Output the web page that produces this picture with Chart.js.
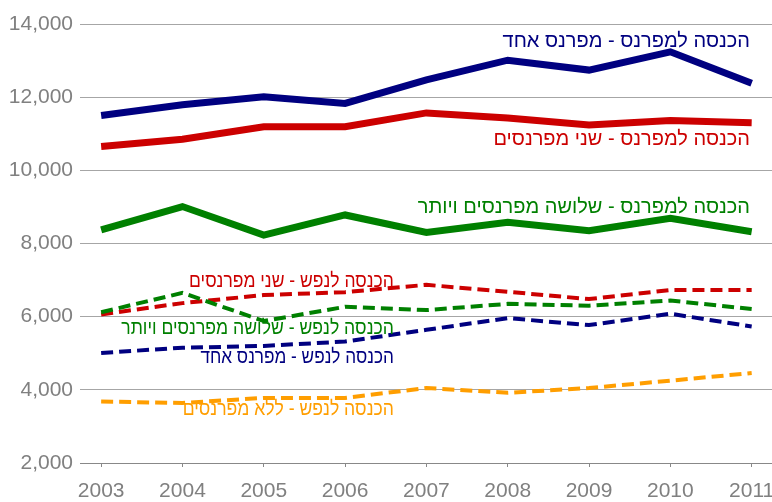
<!DOCTYPE html>
<html><head><meta charset="utf-8">
<script src="https://cdn.jsdelivr.net/npm/chart.js@4.4.1/dist/chart.umd.min.js"></script>
<style>html,body{margin:0;padding:0;background:#fff}#wrap{width:772px;height:502px}</style>
</head><body><div id="wrap"><canvas id="c" width="772" height="502"></canvas></div>
<script>
// ---- data ----
const years = [2003, 2004, 2005, 2006, 2007, 2008, 2009, 2010, 2011];
const yTickValues = [2000, 4000, 6000, 8000, 10000, 12000, 14000];

const perEarnerOneEarner   = [11500, 11790, 12010, 11830, 12470, 13010, 12740, 13240, 12380];
const perEarnerTwoEarners  = [10650, 10850, 11190, 11190, 11570, 11430, 11240, 11360, 11300];
const perEarnerThreePlus   = [8370, 9010, 8230, 8780, 8300, 8580, 8350, 8690, 8320];
const perCapitaTwoEarners  = [6060, 6370, 6590, 6670, 6870, 6680, 6480, 6730, 6730];
const perCapitaThreePlus   = [6120, 6650, 5880, 6270, 6180, 6350, 6300, 6440, 6210];
const perCapitaOneEarner   = [5010, 5150, 5200, 5320, 5640, 5960, 5770, 6080, 5730];
const perCapitaNoEarners   = [3680, 3640, 3780, 3780, 4050, 3920, 4050, 4250, 4460];

const seriesNames = [
  "הכנסה למפרנס - מפרנס אחד",
  "הכנסה למפרנס - שני מפרנסים",
  "הכנסה למפרנס - שלושה מפרנסים ויותר",
  "הכנסה לנפש - שני מפרנסים",
  "הכנסה לנפש - שלושה מפרנסים ויותר",
  "הכנסה לנפש - מפרנס אחד",
  "הכנסה לנפש - ללא מפרנסים"
];

// ---- styles / label placement (data units) ----
const NAVY = '#000080', RED = '#cc0000', GREEN = '#008000', ORANGE = '#ff9e00';
const labelAnchors = [
  {x: 2010.98, y: 13520, color: NAVY, sx: 1},
  {x: 2010.98, y: 10830, color: RED, sx: 1},
  {x: 2010.98, y: 8980, color: GREEN, sx: 1},
  {x: 2006.6, y: 6950, color: RED, sx: 0.875},
  {x: 2006.6, y: 5680, color: GREEN, sx: 0.88},
  {x: 2006.6, y: 4890, color: NAVY, sx: 0.86},
  {x: 2006.6, y: 3450, color: ORANGE, sx: 0.88}
];

function pts(arr){ return years.map((x,i)=>({x:x, y:arr[i]})); }
function solid(label, data, color){
  return {label, data: pts(data), borderColor: color, borderWidth: 7, pointRadius: 0, tension: 0, fill: false, borderJoinStyle: 'miter', borderCapStyle: 'butt'};
}
function dashed(label, data, color){
  return {label, data: pts(data), borderColor: color, borderWidth: 4, borderDash: [12, 6], pointRadius: 0, tension: 0, fill: false, borderJoinStyle: 'miter', borderCapStyle: 'butt'};
}

const FONT = "'Liberation Sans', Arial, sans-serif";

const labelPlugin = {
  id: 'seriesLabels',
  afterDatasetsDraw(chart){
    const ctx = chart.ctx, xs = chart.scales.x, ys = chart.scales.y;
    labelAnchors.forEach((a, i) => {
      const px = xs.getPixelForValue(a.x), py = ys.getPixelForValue(a.y);
      ctx.save();
      ctx.font = "20px " + FONT;
      ctx.direction = 'rtl';
      ctx.textAlign = 'right';
      ctx.textBaseline = 'middle';
      ctx.fillStyle = a.color;
      ctx.translate(px, py);
      ctx.scale(a.sx, 1);
      ctx.fillText(seriesNames[i], 0, 0);
      ctx.restore();
    });
  }
};

new Chart(document.getElementById('c'), {
  type: 'line',
  data: {
    datasets: [
      solid(seriesNames[0], perEarnerOneEarner, NAVY),
      solid(seriesNames[1], perEarnerTwoEarners, RED),
      solid(seriesNames[2], perEarnerThreePlus, GREEN),
      dashed(seriesNames[4], perCapitaThreePlus, GREEN),
      dashed(seriesNames[3], perCapitaTwoEarners, RED),
      dashed(seriesNames[5], perCapitaOneEarner, NAVY),
      dashed(seriesNames[6], perCapitaNoEarners, ORANGE)
    ]
  },
  options: {
    responsive: false,
    animation: false,
    devicePixelRatio: 1,
    layout: {padding: {top: 24, right: 0, left: 0, bottom: 0}},
    plugins: {legend: {display: false}, tooltip: {enabled: false}},
    scales: {
      x: {
        type: 'linear',
        min: 2002.74,
        max: 2011.25,
        afterBuildTicks(scale){ scale.ticks = years.map(v => ({value: v})); },
        afterFit(scale){ scale.paddingLeft = 0; scale.paddingRight = 0; scale.height = 39; },
        grid: {drawOnChartArea: false, drawTicks: true, tickLength: 4, color: '#888888'},
        border: {display: true, color: '#888888', width: 1},
        ticks: {
          padding: 12,
          color: '#808080',
          font: {family: FONT, size: 21},
          maxRotation: 0,
          autoSkip: false,
          callback: v => String(v)
        }
      },
      y: {
        min: 2000,
        max: 14000,
        afterBuildTicks(scale){ scale.ticks = yTickValues.map(v => ({value: v})); },
        afterFit(scale){ scale.width = 80; },
        grid: {drawTicks: false, color: '#a6a6a6', lineWidth: 1},
        border: {display: false},
        ticks: {
          padding: 7,
          color: '#808080',
          font: {family: FONT, size: 21},
          callback: v => v.toLocaleString('en-US')
        }
      }
    }
  },
  plugins: [labelPlugin]
});
</script>
</body></html>
